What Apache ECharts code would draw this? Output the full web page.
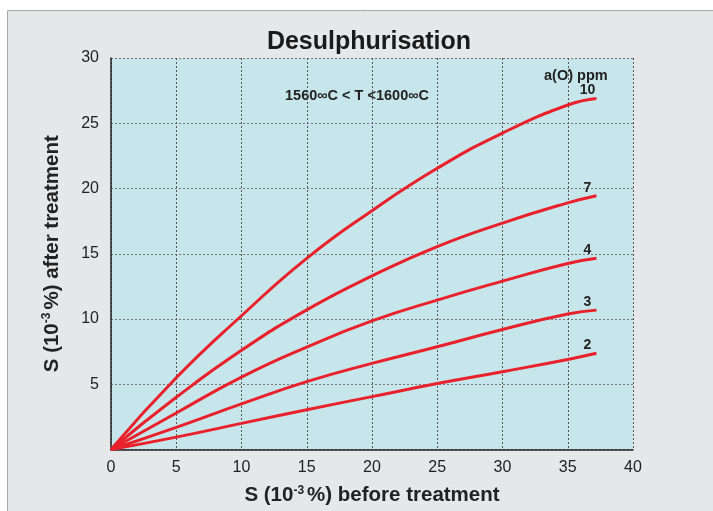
<!DOCTYPE html>
<html>
<head>
<meta charset="utf-8">
<script src="https://cdn.jsdelivr.net/npm/echarts@6/dist/echarts.min.js"></script>
<style>
  html, body { margin: 0; padding: 0; background: #fff; }
  #chart { width: 713px; height: 511px; }
</style>
</head>
<body>
<div id="chart"></div>
<script>
// S before treatment (10^-3 %)
const xValues = [0, 5, 10, 15, 20, 25, 30, 35, 37.2]
// S after treatment for each a(O) ppm
const ppm10 = [0, 5.5, 10.25, 14.65, 18.3, 21.55, 24.25, 26.4, 26.9]
const ppm7 = [0, 4.0, 7.6, 10.7, 13.3, 15.55, 17.35, 18.9, 19.45]
const ppm4 = [0, 2.8, 5.55, 7.85, 9.85, 11.45, 12.9, 14.25, 14.65]
const ppm3 = [0, 1.7, 3.5, 5.2, 6.6, 7.87, 9.2, 10.38, 10.68]
const ppm2 = [0, 0.95, 2.0, 3.05, 4.05, 5.05, 5.96, 6.9, 7.37]
const curveNames = ['10', '7', '4', '3', '2']
const curveValues = [ppm10, ppm7, ppm4, ppm3, ppm2]

const font = 'Arial, "Liberation Sans", sans-serif'

function makeSeries (name, values) {
    return {
        name: name,
        type: 'line',
        smooth: true,
        symbol: 'none',
        lineStyle: { color: '#e8212b', width: 3 },
        // 曲线末端的标签
        endLabel: {
            show: true,
            formatter: name,
            distance: 0,
            align: 'center',
            verticalAlign: 'bottom',
            offset: [-9, -1],
            fontFamily: font,
            fontWeight: 'bold',
            fontSize: 14,
            color: '#222'
        },
        data: values.map((v, i) => [xValues[i], v])
    }
}

let myChart = echarts.init(document.getElementById('chart'))
myChart.setOption({
    animation: false,
    graphic: [
        {
            type: 'rect',
            z: -10,
            shape: { x: 7.5, y: 10.5, width: 720, height: 520 },
            style: { fill: '#e6e7e9', stroke: '#a9a9a9', lineWidth: 1 }
        },
        {
            type: 'text',
            left: 544, top: 68,
            style: { text: 'a(O) ppm', font: 'bold 14.5px ' + font, fill: '#222' }
        },
        {
            type: 'text',
            left: 285, top: 88,
            style: { text: '1560∞C < T <1600∞C', font: 'bold 14.5px ' + font, fill: '#222' }
        }
    ],
    title: {
        text: 'Desulphurisation',
        left: 364,
        textAlign: 'center',
        top: 25,
        textStyle: { fontFamily: font, fontWeight: 'bold', fontSize: 25, color: '#1a1a1a' }
    },
    grid: { left: 111, right: 80, top: 58, bottom: 61, show: true, backgroundColor: '#c7e6ec', borderWidth: 0 },
    xAxis: {
        type: 'value',
        min: 0, max: 40, interval: 5,
        name: '{a|S (10}{s|-3}{a|%) before treatment}',
        nameLocation: 'middle',
        nameGap: 35,
        nameTextStyle: {
            rich: {
                a: { fontFamily: font, fontWeight: 'bold', fontSize: 20.5, color: '#222' },
                s: { fontFamily: font, fontWeight: 'bold', fontSize: 12, color: '#222', verticalAlign: 'top', padding: [0, 3, 10, 0] }
            }
        },
        axisLine: { lineStyle: { color: '#222', width: 1.5 } },
        axisTick: { show: false },
        axisLabel: { fontFamily: font, fontSize: 16, color: '#222', margin: 10 },
        splitLine: { lineStyle: { type: [2, 2], color: '#555' } }
    },
    yAxis: {
        type: 'value',
        min: 0, max: 30, interval: 5,
        name: '{a|S (10}{s|-3}{a|%) after treatment}',
        nameLocation: 'middle',
        nameGap: 48,
        nameTextStyle: {
            rich: {
                a: { fontFamily: font, fontWeight: 'bold', fontSize: 20.5, color: '#222' },
                s: { fontFamily: font, fontWeight: 'bold', fontSize: 12, color: '#222', verticalAlign: 'top', padding: [0, 3, 10, 0] }
            }
        },
        axisLine: { show: true, lineStyle: { color: '#222', width: 1.5 } },
        axisTick: { show: false },
        axisLabel: {
            fontFamily: font, fontSize: 16, color: '#222', margin: 12,
            formatter: v => (v === 0 ? '' : v)
        },
        splitLine: { lineStyle: { type: [2, 2], color: '#777' } }
    },
    series: curveNames.map((n, i) => makeSeries(n, curveValues[i]))
})
</script>
</body>
</html>
